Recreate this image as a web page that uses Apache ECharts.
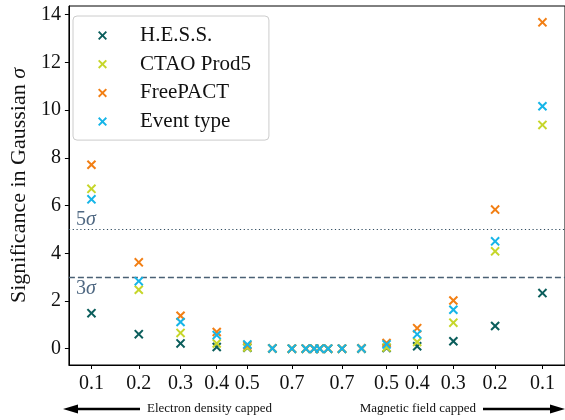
<!DOCTYPE html>
<html>
<head>
<meta charset="utf-8">
<script src="https://cdn.jsdelivr.net/npm/echarts@6/dist/echarts.min.js"></script>
<style>
  html, body { margin: 0; padding: 0; background: #fff; }
  #chart { width: 565px; height: 420px; }
</style>
</head>
<body>
<div id="chart"></div>
<script>
// Cap levels on each side of the scan
const densityCapLevels = [0.1, 0.2, 0.3, 0.4, 0.5, 0.6, 0.7, 0.8, 0.9];
const fieldCapLevels = [0.9, 0.8, 0.7, 0.6, 0.5, 0.4, 0.3, 0.2, 0.1];

// Significance (Gaussian sigma) per instrument, electron-density-capped side
const hessDensity = [1.49, 0.61, 0.22, 0.07, 0.04, 0.01, 0.0, 0.0, 0.0];
const ctaoDensity = [6.70, 2.47, 0.66, 0.22, 0.05, 0.01, 0.0, 0.0, 0.0];
const freepactDensity = [7.71, 3.62, 1.38, 0.70, 0.14, 0.01, 0.0, 0.0, 0.0];
const eventTypeDensity = [6.26, 2.83, 1.12, 0.57, 0.18, 0.01, 0.0, 0.0, 0.0];

// Significance per instrument, magnetic-field-capped side
const hessField = [0.0, 0.0, 0.0, 0.0, 0.03, 0.10, 0.31, 0.95, 2.33];
const ctaoField = [0.0, 0.0, 0.0, 0.01, 0.05, 0.28, 1.09, 4.08, 9.38];
const freepactField = [0.0, 0.0, 0.0, 0.02, 0.24, 0.86, 2.02, 5.83, 13.68];
const eventTypeField = [0.0, 0.0, 0.0, 0.01, 0.18, 0.60, 1.63, 4.50, 10.16];

const seriesNames = ['H.E.S.S.', 'CTAO Prod5', 'FreePACT', 'Event type'];
const seriesColors = ['#0b5e5c', '#c6d62a', '#f27f14', '#16b5e8'];

// Labelled cap levels on the x axis and y ticks
const xTickLevels = [0.1, 0.2, 0.3, 0.4, 0.5, 0.7];
const yTicks = [0, 2, 4, 6, 8, 10, 12, 14];
const thresholds = [5, 3];

// Axis coordinate: signed squared distance from the uncapped centre
function axisPos(level, side) {
  return side * Math.pow(1 - level, 2);
}

function buildPoints(densityVals, fieldVals) {
  const pts = [];
  densityCapLevels.forEach((lv, i) => pts.push([axisPos(lv, -1), densityVals[i]]));
  fieldCapLevels.forEach((lv, i) => pts.push([axisPos(lv, 1), fieldVals[i]]));
  return pts;
}

const seriesData = [
  buildPoints(hessDensity, hessField),
  buildPoints(ctaoDensity, ctaoField),
  buildPoints(freepactDensity, freepactField),
  buildPoints(eventTypeDensity, eventTypeField)
];

const xTickValues = [];
xTickLevels.forEach(lv => xTickValues.push(axisPos(lv, -1)));
xTickLevels.slice().reverse().forEach(lv => xTickValues.push(axisPos(lv, 1)));

const allVals = [].concat(...seriesData.map(s => s.map(p => p[1])));
const yMaxData = Math.max(...allVals);
const xMaxData = Math.max(...xTickValues);
const xPad = 0.05 * 2 * xMaxData;
const yPad = 0.05 * yMaxData;

const crossIcon = 'path://M1.5,0L5,3.5L8.5,0L10,1.5L6.5,5L10,8.5L8.5,10L5,6.5L1.5,10L0,8.5L3.5,5L0,1.5Z';
const serif = 'Liberation Serif';
const sigmaLabelColor = '#4f6882';

function sigmaLabel(n) {
  return {
    show: true,
    formatter: '{n|' + n + '}{s|σ}',
    rich: {
      n: { fontFamily: serif, fontSize: 20, color: sigmaLabelColor },
      s: { fontFamily: serif, fontSize: 20, fontStyle: 'italic', color: sigmaLabelColor }
    }
  };
}

const chart = echarts.init(document.getElementById('chart'), null, { renderer: 'canvas' });

const series = seriesNames.map((name, i) => {
  const s = {
    name: name,
    type: 'scatter',
    data: seriesData[i],
    symbol: crossIcon,
    symbolSize: 9.5,
    itemStyle: { color: seriesColors[i], opacity: 1 },
    emphasis: { disabled: true },
    z: 3 + i
  };
  if (i === 0) {
    s.markLine = {
      silent: true,
      symbol: ['none', 'none'],
      animation: false,
      z: 1,
      data: [
        {
          yAxis: thresholds[0],
          lineStyle: { color: '#2f4a5e', width: 1.2, type: [1.2, 2.6] },
          label: Object.assign(sigmaLabel(thresholds[0]), { position: 'insideStartTop', distance: [7, 0] })
        },
        {
          yAxis: thresholds[1],
          lineStyle: { color: '#4a6074', width: 1.3, type: [6, 3] },
          label: Object.assign(sigmaLabel(thresholds[1]), { position: 'insideStartBottom', distance: [7, 2] })
        }
      ]
    };
  }
  return s;
});

const option = {
  animation: false,
  backgroundColor: '#fff',
  grid: {
    left: 63, top: 6, width: 503, bottom: 55,
    show: true, borderColor: '#000', borderWidth: 1,
    containLabel: false
  },
  legend: {
    orient: 'vertical',
    left: 73, top: 16,
    padding: [9, 18, 8, 25],
    itemGap: 7.7,
    itemWidth: 9,
    itemHeight: 9,
    backgroundColor: 'rgba(255,255,255,0.85)',
    borderColor: '#cccccc',
    borderWidth: 1,
    borderRadius: 4,
    data: seriesNames.map(n => ({ name: n, icon: crossIcon })),
    formatter: n => '{g|}{t|' + n + '}',
    textStyle: {
      rich: {
        g: { width: 28, height: 21 },
        t: { fontFamily: serif, fontSize: 21, lineHeight: 21, color: '#111' }
      }
    }
  },
  xAxis: {
    type: 'value',
    min: -(xMaxData + xPad),
    max: xMaxData + xPad,
    splitLine: { show: false },
    axisLine: { show: true, onZero: false, lineStyle: { color: '#000', width: 1 } },
    axisTick: { show: true, length: 4, lineStyle: { color: '#000' }, customValues: xTickValues },
    axisLabel: {
      customValues: xTickValues,
      margin: 9,
      fontFamily: serif, fontSize: 20, color: '#111',
      formatter: v => (1 - Math.sqrt(Math.abs(v))).toFixed(1)
    }
  },
  yAxis: {
    type: 'value',
    min: -yPad,
    max: yMaxData + yPad,
    name: '{t|Significance in Gaussian }{s|σ}',
    nameLocation: 'middle',
    nameGap: 33,
    nameTextStyle: {
      rich: {
        t: { fontFamily: serif, fontSize: 22, color: '#111' },
        s: { fontFamily: serif, fontSize: 22, fontStyle: 'italic', color: '#111' }
      }
    },
    splitLine: { show: false },
    axisLine: { show: true, onZero: false, lineStyle: { color: '#000', width: 1 } },
    axisTick: { show: true, length: 4, lineStyle: { color: '#000' }, customValues: yTicks },
    axisLabel: {
      customValues: yTicks,
      margin: 8,
      fontFamily: serif, fontSize: 20, color: '#111'
    }
  },
  graphic: [
    // left arrow: electron density capped
    { type: 'line', shape: { x1: 72, y1: 409, x2: 140, y2: 409 }, style: { stroke: '#000', lineWidth: 2.6 } },
    { type: 'polygon', shape: { points: [[63, 409], [78, 404.5], [78, 413.5]] }, style: { fill: '#000' } },
    { type: 'text', style: { x: 147, y: 409, text: 'Electron density capped', font: '13px "Liberation Serif"', fill: '#111', verticalAlign: 'middle', align: 'left' } },
    // right arrow: magnetic field capped
    { type: 'text', style: { x: 476, y: 409, text: 'Magnetic field capped', font: '13px "Liberation Serif"', fill: '#111', verticalAlign: 'middle', align: 'right' } },
    { type: 'line', shape: { x1: 483, y1: 409, x2: 552, y2: 409 }, style: { stroke: '#000', lineWidth: 2.6 } },
    { type: 'polygon', shape: { points: [[565, 409], [550, 404.5], [550, 413.5]] }, style: { fill: '#000' } }
  ],
  series: series
};

chart.setOption(option);
</script>
</body>
</html>
